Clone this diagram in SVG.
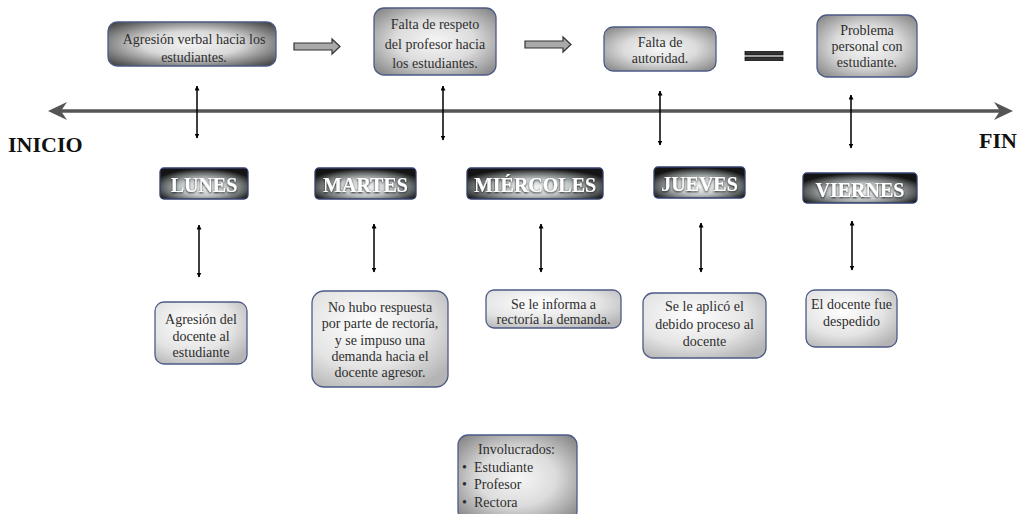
<svg xmlns="http://www.w3.org/2000/svg" width="1035" height="514" viewBox="0 0 1035 514">
  <defs>
    <radialGradient id="gTopDark" cx="50%" cy="50%" r="65%">
      <stop offset="0" stop-color="#f4f4f4"/>
      <stop offset="0.45" stop-color="#d8d8d8"/>
      <stop offset="1" stop-color="#4a4a4a"/>
    </radialGradient>
    <radialGradient id="gTop" cx="50%" cy="50%" r="65%">
      <stop offset="0" stop-color="#f6f6f6"/>
      <stop offset="0.5" stop-color="#dcdcdc"/>
      <stop offset="1" stop-color="#8a8a8a"/>
    </radialGradient>
    <radialGradient id="gDay" cx="50%" cy="62%" r="60%">
      <stop offset="0" stop-color="#f4f6f6"/>
      <stop offset="0.45" stop-color="#c2c7c7"/>
      <stop offset="0.78" stop-color="#606464"/>
      <stop offset="1" stop-color="#141414"/>
    </radialGradient>
    <radialGradient id="gLow" cx="40%" cy="35%" r="75%">
      <stop offset="0" stop-color="#ffffff"/>
      <stop offset="0.6" stop-color="#e4e4e4"/>
      <stop offset="1" stop-color="#b4b4b4"/>
    </radialGradient>
    <marker id="tip" viewBox="0 0 10 10" refX="9" refY="5" markerWidth="5" markerHeight="5" orient="auto-start-reverse" markerUnits="userSpaceOnUse">
      <path d="M0,0 L10,5 L0,10 Z" fill="#000"/>
    </marker>
    <filter id="glow" x="-10%" y="-30%" width="120%" height="160%">
      <feGaussianBlur in="SourceAlpha" stdDeviation="1"/>
      <feOffset dx="0" dy="1"/>
      <feComponentTransfer><feFuncA type="linear" slope="0.9"/></feComponentTransfer>
      <feMerge><feMergeNode/><feMergeNode in="SourceGraphic"/></feMerge>
    </filter>
  </defs>
  <style>
    .top { stroke: #4d5a86; stroke-width: 1.3; }
    .low { fill: url(#gLow); stroke: #4d5a86; stroke-width: 1.3; }
    .day { fill: url(#gDay); stroke: #34406e; stroke-width: 1.3; }
    .t { font-family: "Liberation Serif", "DejaVu Serif", serif; font-size: 14px; fill: #2e2e2e; text-anchor: middle; }
    .tl { font-family: "Liberation Serif", "DejaVu Serif", serif; font-size: 14px; fill: #2e2e2e; }
    .dt { font-family: "Liberation Serif", "DejaVu Serif", serif; font-size: 20px; font-weight: bold; fill: #ffffff; text-anchor: middle; filter: url(#glow); }
    .end { font-family: "Liberation Serif", "DejaVu Serif", serif; font-size: 22px; font-weight: bold; fill: #111; }
    .va { stroke: #000; stroke-width: 1.5; fill: none; marker-start: url(#tip); marker-end: url(#tip); }
    .blk { fill: #a9a9a9; stroke: #333; stroke-width: 1.2; }
  </style>

  <!-- timeline, link arrows and symbols -->
  <g id="connectors">
    <line x1="60" y1="111" x2="1003" y2="111" stroke="#555" stroke-width="3.5"/>
    <path d="M48,111 L67,102 L61,111 L67,120 Z" fill="#555"/>
    <path d="M1013,111 L994,102 L1000,111 L994,120 Z" fill="#555"/>

    <!-- upper links: event box to day label -->
    <line class="va" x1="197" y1="86" x2="197" y2="138"/>
    <line class="va" x1="443" y1="86" x2="443" y2="140"/>
    <line class="va" x1="660" y1="91" x2="660" y2="145"/>
    <line class="va" x1="851" y1="95" x2="851" y2="148"/>

    <!-- lower links: day label to outcome box -->
    <line class="va" x1="199" y1="225" x2="199" y2="277"/>
    <line class="va" x1="374" y1="224" x2="374" y2="272"/>
    <line class="va" x1="541" y1="224" x2="541" y2="272"/>
    <line class="va" x1="701" y1="223" x2="701" y2="272"/>
    <line class="va" x1="852" y1="221" x2="852" y2="270"/>

    <!-- block arrows between upper boxes -->
    <path class="blk" d="M294,43 L332,43 L332,39 L340,46.5 L332,54 L332,50 L294,50 Z"/>
    <path class="blk" d="M525,41 L563,41 L563,37 L571,44.5 L563,52 L563,48 L525,48 Z"/>
    <!-- equals sign -->
    <rect x="745" y="51.5" width="38" height="3.5" fill="#333" stroke="#111" stroke-width="0.8"/>
    <rect x="745" y="57" width="38" height="3.5" fill="#333" stroke="#111" stroke-width="0.8"/>
  </g>

  <!-- end labels -->
  <g id="inicio"><text class="end" x="8" y="152">INICIO</text></g>
  <g id="fin"><text class="end" x="979" y="148">FIN</text></g>

  <!-- upper event boxes -->
  <g id="evento-agresion">
    <rect class="top" x="108" y="22" width="168" height="44" rx="9" fill="url(#gTopDark)"/>
    <text class="t" x="194" y="44">Agresión verbal hacia los</text>
    <text class="t" x="194" y="62">estudiantes.</text>
  </g>
  <g id="evento-respeto">
    <rect class="top" x="374" y="8" width="122" height="67" rx="10" fill="url(#gTop)"/>
    <text class="t" x="435" y="29">Falta de respeto</text>
    <text class="t" x="435" y="49">del profesor hacia</text>
    <text class="t" x="435" y="68">los estudiantes.</text>
  </g>
  <g id="evento-autoridad">
    <rect class="top" x="604" y="27" width="112" height="44" rx="9" fill="url(#gTop)"/>
    <text class="t" x="660" y="47">Falta de</text>
    <text class="t" x="660" y="63">autoridad.</text>
  </g>
  <g id="evento-problema">
    <rect class="top" x="817" y="15" width="100" height="62" rx="10" fill="url(#gTop)"/>
    <text class="t" x="867" y="35">Problema</text>
    <text class="t" x="867" y="51">personal con</text>
    <text class="t" x="867" y="67">estudiante.</text>
  </g>

  <!-- day labels -->
  <g id="lunes">
    <rect class="day" x="160" y="168" width="88" height="31" rx="4"/>
    <text class="dt" x="204" y="192">LUNES</text>
  </g>
  <g id="martes">
    <rect class="day" x="315" y="168" width="101" height="31" rx="4"/>
    <text class="dt" x="365.5" y="192">MARTES</text>
  </g>
  <g id="miercoles">
    <rect class="day" x="467" y="168" width="136" height="31" rx="4"/>
    <text class="dt" x="535" y="192">MIÉRCOLES</text>
  </g>
  <g id="jueves">
    <rect class="day" x="654" y="167" width="91" height="31" rx="4"/>
    <text class="dt" x="699.5" y="191">JUEVES</text>
  </g>
  <g id="viernes">
    <rect class="day" x="803" y="173" width="114" height="30" rx="4"/>
    <text class="dt" x="860" y="197">VIERNES</text>
  </g>

  <!-- lower outcome boxes -->
  <g id="res-lunes">
    <rect class="low" x="155" y="302" width="92" height="62" rx="9"/>
    <text class="t" x="201" y="324">Agresión del</text>
    <text class="t" x="201" y="341">docente al</text>
    <text class="t" x="201" y="357">estudiante</text>
  </g>
  <g id="res-martes">
    <rect class="low" x="312" y="291" width="136" height="96" rx="12"/>
    <text class="t" x="380" y="312">No hubo respuesta</text>
    <text class="t" x="380" y="328">por parte de rectoría,</text>
    <text class="t" x="380" y="345">y se impuso una</text>
    <text class="t" x="380" y="361">demanda hacia el</text>
    <text class="t" x="380" y="377">docente agresor.</text>
  </g>
  <g id="res-miercoles">
    <rect class="low" x="486" y="290" width="135" height="38" rx="8"/>
    <text class="t" x="553.5" y="309">Se le informa a</text>
    <text class="t" x="553.5" y="324">rectoría la demanda.</text>
  </g>
  <g id="res-jueves">
    <rect class="low" x="643" y="293" width="123" height="65" rx="10"/>
    <text class="t" x="704.5" y="311">Se le aplicó el</text>
    <text class="t" x="704.5" y="329">debido proceso al</text>
    <text class="t" x="704.5" y="346">docente</text>
  </g>
  <g id="res-viernes">
    <rect class="low" x="806" y="290" width="91" height="57" rx="9"/>
    <text class="t" x="851.5" y="309">El docente fue</text>
    <text class="t" x="851.5" y="326">despedido</text>
  </g>

  <!-- people involved -->
  <g id="involucrados">
    <rect x="458" y="435" width="119" height="86" rx="10" fill="url(#gTop)" stroke="#4d5a86" stroke-width="1.3"/>
    <text class="tl" x="478" y="454">Involucrados:</text>
    <text class="tl" x="462" y="472">•</text>
    <text class="tl" x="474" y="472">Estudiante</text>
    <text class="tl" x="462" y="489">•</text>
    <text class="tl" x="474" y="489">Profesor</text>
    <text class="tl" x="462" y="507">•</text>
    <text class="tl" x="474" y="507">Rectora</text>
  </g>
</svg>
